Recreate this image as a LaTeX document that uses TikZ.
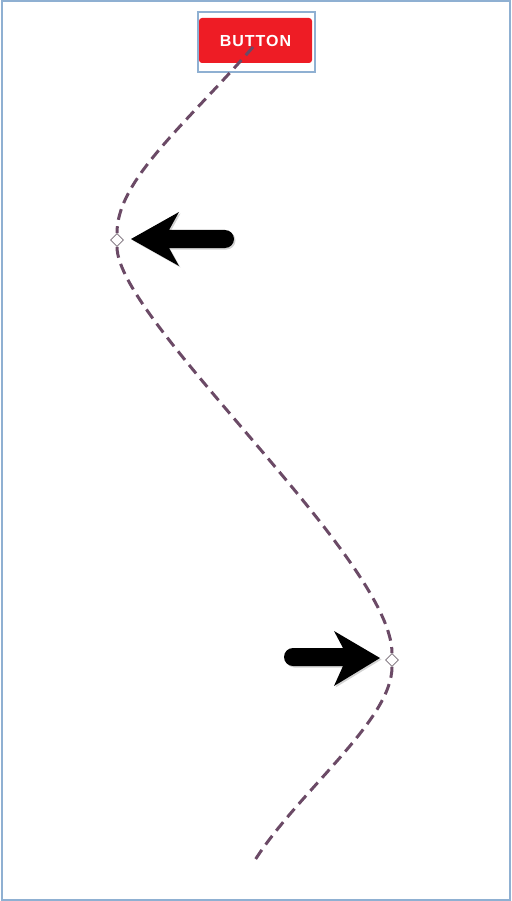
\documentclass[tikz,border=0pt]{standalone}
\usepackage{fontspec}
\newfontfamily\btnfont[LetterSpace=6]{Liberation Sans}
\usepackage{tikz}
\usetikzlibrary{shapes.geometric,shadows}
\definecolor{btnred}{HTML}{EE1C25}
\definecolor{frameblue}{HTML}{8FB0D2}
\definecolor{pathpurple}{HTML}{6B4A66}

\begin{document}
\begin{tikzpicture}[x=1pt,y=-1pt,
  btnbox/.style={fill=btnred,rounded corners=3pt,minimum width=113pt,minimum height=45pt,text=white,font=\btnfont\bfseries\fontsize{16}{16}\selectfont},
  bendmark/.style={diamond,draw=gray!60!pathpurple,fill=white,inner sep=0pt,minimum size=13pt,line width=0.7pt},
  motion/.style={draw=pathpurple,line width=3pt,dash pattern=on 11pt off 6.5pt},
  pointer/.style={fill=black,drop shadow={shadow xshift=1.5pt,shadow yshift=-1.5pt,opacity=.35}}]

\useasboundingbox (0,0) rectangle (511,901);
\draw[frameblue,line width=2pt] (1.5,1.5) rectangle (509.5,899.5);

\node(FRAME)    [draw=frameblue,line width=2pt,minimum width=117pt,minimum height=60pt] at (256.5,42) {};
\node(BUTTON)   [btnbox] at (255.5,40.5) {BUTTON};
\coordinate(START) at (253,47);
\node(LEFTBEND)  [bendmark] at (117,240) {};
\node(RIGHTBEND) [bendmark] at (392,660) {};
\coordinate(END) at (255,860);

\draw[motion](START) .. controls (185,125) and (117,180) .. (LEFTBEND);
\draw[motion](LEFTBEND) .. controls (117,320) and (392,560) .. (RIGHTBEND);
\draw[motion](RIGHTBEND) .. controls (392,720) and (300,790) .. (END);

\fill[pointer] (169,230) -- (225,230) arc[start angle=-90,end angle=90,radius=9] -- (169,248) -- (179,266) -- (131,239) -- (179,212) -- cycle;
\fill[pointer] (343,648) -- (293,648) arc[start angle=-90,end angle=-270,radius=9] -- (343,666) -- (334,686) -- (380,658) -- (334,631) -- cycle;
\end{tikzpicture}
\end{document}
